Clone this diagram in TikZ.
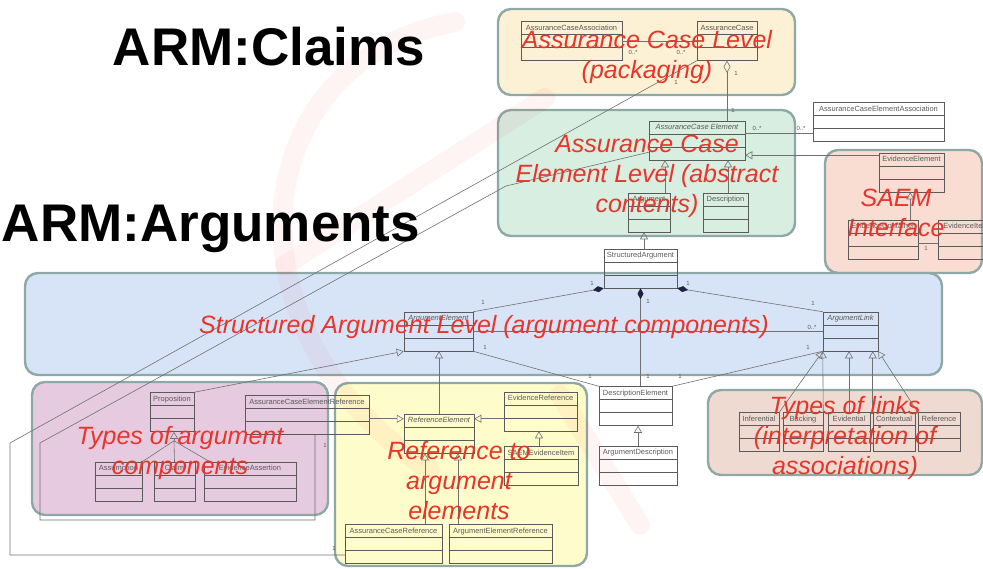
\documentclass[tikz,border=0pt]{standalone}
\usepackage{fontspec}
\setmainfont{Liberation Sans}
\usetikzlibrary{arrows.meta,calc}
\definecolor{acRed}{HTML}{E8352B}
\definecolor{acFrame}{HTML}{8EA8A6}
\definecolor{acLine}{HTML}{5A5A5A}
\definecolor{acCon}{HTML}{707070}
\definecolor{acNavy}{HTML}{1E2440}
\definecolor{acPeach}{HTML}{FCF0D5}
\definecolor{acMint}{HTML}{D7EEE1}
\definecolor{acSalmon}{HTML}{FADDD2}
\definecolor{acSky}{HTML}{D7E4F8}
\definecolor{acLilac}{HTML}{E6CAE0}
\definecolor{acLemon}{HTML}{FFFCCB}
\definecolor{acSand}{HTML}{EFDAD1}

\begin{document}
\begin{tikzpicture}[
    x=1pt,y=-1pt,
    region/.style={draw=acFrame,line width=2.4pt,rounded corners=13pt},
    cls/.style={draw=acLine,line width=0.5pt,inner sep=0pt,minimum height=39pt,
                label={[clsname]north:#1},
                path picture={\draw[acLine,line width=0.5pt]
                  ([yshift=-13pt]path picture bounding box.north west) -- ([yshift=-13pt]path picture bounding box.north east)
                  ([yshift=-26pt]path picture bounding box.north west) -- ([yshift=-26pt]path picture bounding box.north east);}},
    acls/.style={cls={\itshape #1}},
    clsname/.style={anchor=north,inner sep=0pt,yshift=-3.5pt,font=\fontsize{7.5}{8}\selectfont,text=acLine},
    mult/.style={font=\fontsize{6}{7}\selectfont,text=acLine,inner sep=0pt},
    lvl/.style={text=acRed,font=\fontsize{25}{30}\selectfont\itshape,align=center},
    ttl/.style={font=\fontsize{53}{60}\selectfont\bfseries,anchor=base},
    con/.style={draw=acCon,line width=0.6pt},
    gen/.style={con,-{Triangle[open,length=7pt,width=8pt]}},
    comp/.style={con,{Diamond[length=11pt,width=6pt,color=acNavy,fill=acNavy]}-},
    agg/.style={con,{Diamond[open,length=12pt,width=7pt]}-},
    wm/.style={line width=20pt,opacity=0.045,line cap=round,draw=red}
  ]
  \path[use as bounding box] (0,0) rectangle (983,568);
  \clip (0,0) rectangle (983,568);

  % level frames
  \draw[region,fill=acPeach]  (498,9)   rectangle (795,95);
  \draw[region,fill=acMint]   (498,110) rectangle (795,236);
  \draw[region,fill=acSalmon] (825,150) rectangle (982,273);
  \draw[region,fill=acSky]    (25,273)  rectangle (942,375);
  \draw[region,fill=acLilac]  (32,382)  rectangle (328,515);
  \draw[region,fill=acLemon]  (335,383) rectangle (587,566);
  \draw[region,fill=acSand]   (708,390) rectangle (982,475);

  % watermark
  \draw[wm] (455,22) .. controls (245,60) and (215,330) .. (430,470);
  \draw[wm] (285,265) -- (545,98);
  \draw[wm] (560,395) -- (640,525);

  % classes
  \node[cls=AssuranceCaseAssociation,minimum width=101pt] (acassoc) at (571.5,41) {};
  \node[cls=AssuranceCase,minimum width=60pt] (acase) at (727,41) {};
  \node[acls=AssuranceCase Element,minimum width=96pt] (acelem) at (697,140.5) {};
  \node[cls=Argument,minimum width=42pt] (argument) at (649,212.5) {};
  \node[cls=Description,minimum width=45pt] (descr) at (725.5,212.5) {};
  \node[cls=AssuranceCaseElementAssociation,minimum width=131pt] (aceassoc) at (878.5,122) {};
  \node[cls=EvidenceElement,minimum width=65pt] (evelem) at (911.5,172.5) {};
  \node[cls=EvidenceContainer,minimum width=70pt] (evcont) at (883,239.5) {};
  \node[cls=EvidenceItem,minimum width=56pt] (evitem) at (966,239.5) {};
  \node[cls=StructuredArgument,minimum width=73pt] (strarg) at (640.5,268.5) {};
  \node[acls=ArgumentElement,minimum width=69pt] (argelem) at (438.5,331.5) {};
  \node[acls=ArgumentLink,minimum width=55pt] (arglink) at (850.5,331.5) {};
  \node[cls=DescriptionElement,minimum width=73pt] (descelem) at (635.5,406) {};
  \node[cls=ArgumentDescription,minimum width=78pt] (argdesc) at (638,465.5) {};
  \node[cls=Proposition,minimum width=44pt] (prop) at (172,412) {};
  \node[cls=Assumption,minimum width=47pt] (assump) at (118.5,481.5) {};
  \node[cls=Claim,minimum width=41pt] (claim) at (174.5,481.5) {};
  \node[cls=EvidenceAssertion,minimum width=92pt] (evassert) at (250,481.5) {};
  \node[cls=AssuranceCaseElementReference,minimum width=124pt] (acerefel) at (307,415) {};
  \node[acls=ReferenceElement,minimum width=70pt] (refelem) at (439,433.5) {};
  \node[cls=EvidenceReference,minimum width=73pt] (evref) at (540.5,411.5) {};
  \node[cls=SAEMEvidenceItem,minimum width=74pt] (saemev) at (541,466) {};
  \node[cls=AssuranceCaseReference,minimum width=97pt] (acref) at (393.5,544) {};
  \node[cls=ArgumentElementReference,minimum width=103pt] (aeref) at (500.5,544) {};
  \node[cls=Inferential,minimum width=40pt] (inferential) at (759,432) {};
  \node[cls=Backing,minimum width=40pt] (backing) at (803,432) {};
  \node[cls=Evidential,minimum width=42pt] (evidential) at (849,432) {};
  \node[cls=Contextual,minimum width=42pt] (contextual) at (894,432) {};
  \node[cls=Reference,minimum width=42pt] (reference) at (939,432) {};

  % assurance case level
  \draw[con] (acassoc.east) -- (acase.west);
  \node[mult] (m1) at (633,52) {0..*};
  \node[mult] (m2) at (681,52) {0..*};
  \draw[agg] (acase.south) -- (acase.south |- acelem.north);
  \node[mult] (m3) at (736,73) {1};
  \node[mult] (m4) at (733,110) {1};

  % element level
  \coordinate (eaR) at ($(acelem.north east)+(0,13)$);
  \draw[con] (eaR) -- (eaR -| aceassoc.west);
  \node[mult] (m5) at (757,128) {0..*};
  \node[mult] (m6) at (801,128) {0..*};
  \coordinate (evJ) at ($(acelem.south east)+(0,-5)$);
  \draw[gen] (evJ -| evelem.west) -- (evJ);
  \coordinate (argT) at ($(argument.north)+(16,0)$);
  \draw[gen] (argT) -- (argT |- acelem.south);
  \coordinate (desT) at ($(descr.north)+(2.5,0)$);
  \draw[gen] (desT) -- (desT |- acelem.south);
  \coordinate (saT) at ($(strarg.north)+(3.5,0)$);
  \draw[gen] (saT) -- (saT |- argument.south);

  % SAEM
  \coordinate (ecT) at ($(evcont.north east)+(-8,0)$);
  \draw[gen] (ecT) -- (ecT |- evelem.south);
  \coordinate (ecR) at ($(evcont.east)+(0,4)$);
  \draw[con] (ecR) -- (ecR -| evitem.west);
  \node[mult] (m7) at (926,248) {1};

  % structured argument level
  \draw[comp] (strarg.south west) -- (argelem.north east);
  \draw[comp] (strarg.south) -- (strarg.south |- descelem.north);
  \draw[comp] (strarg.south east) -- (arglink.north west);
  \draw[con] (argelem.east) -- (arglink.west);
  \draw[con] (argelem.south east) -- (descelem.north west);
  \draw[con] (descelem.north east) -- (arglink.south west);
  \node[mult] (m8) at (592,283) {1};
  \node[mult] (m9) at (483,302) {1};
  \node[mult] (m10) at (648,301) {1};
  \node[mult] (m11) at (648,376) {1};
  \node[mult] (m12) at (688,283) {1};
  \node[mult] (m13) at (813,303) {1};
  \node[mult] (m14) at (812,327) {0..*};
  \node[mult] (m15) at (485,347) {1};
  \node[mult] (m16) at (590,376) {1};
  \node[mult] (m17) at (680,376) {1};
  \node[mult] (m18) at (808,347) {1};
  \draw[gen] (prop.north east) -- (argelem.south west);
  \draw[gen] (refelem.north) -- (refelem.north |- argelem.south);
  \draw[gen] (argdesc.north) -- (argdesc.north |- descelem.south);

  % types of links
  \draw[gen] (inferential.north east) -- (arglink.south west);
  \draw[gen] (backing.north east) -- (arglink.south west);
  \draw[gen] (evidential.north) -- (evidential.north |- arglink.south);
  \draw[gen] (contextual.north west) -- (contextual.north west |- arglink.south);
  \draw[gen] (reference.north west) -- (arglink.south east);

  % argument components
  \coordinate (prJ) at ($(prop.south)+(2,9)$);
  \draw[gen] (prJ) -- (prJ |- prop.south);
  \draw[con] (assump.north east) -- (prJ);
  \draw[con] (claim.north) -- (prJ);
  \draw[con] ($(evassert.north west)+(6,0)$) -- (prJ);

  % references
  \coordinate (rfL) at ($(refelem.north west)+(0,5)$);
  \draw[gen] (rfL -| acerefel.east) -- (rfL);
  \coordinate (rfR) at ($(refelem.north east)+(0,5)$);
  \draw[gen] (rfR -| evref.west) -- (rfR);
  \coordinate (rfA) at ($(refelem.south)+(-14,0)$);
  \draw[gen] (rfA |- acref.north) -- (rfA);
  \coordinate (rfB) at ($(refelem.south)+(19,0)$);
  \draw[gen] (rfB |- aeref.north) -- (rfB);
  \coordinate (seT) at ($(saemev.north)+(-2,0)$);
  \draw[gen] (seT) -- (seT |- evref.south);

  % long associations
  \coordinate (laB1) at (10,443);
  \coordinate (laB2) at (10,555);
  \draw[con] (acase.south west) -- (laB1) -- (laB2) -- (laB2 -| acref.west);
  \node[mult] (m19) at (676,82) {1};
  \node[mult] (m20) at (334,548) {1};
  \coordinate (lbS) at ($(acelem.south west)+(0,-8)$);
  \coordinate (lbK) at (506,186);
  \coordinate (lbB1) at (40,443);
  \coordinate (lbB2) at (40,520);
  \coordinate (lbB3) at (315,520);
  \draw[con] (lbS) -- (lbK) -- (lbB1) -- (lbB2) -- (lbB3) -- (lbB3 |- acerefel.south);
  \node[mult] (m21) at (325,445) {1};

  % titles
  \node[ttl] (claims) at (269,65) {ARM:Claims};
  \node[ttl] (arguments) at (211,241) {ARM:Arguments};

  % level captions
  \node[lvl] (capAC)   at (647,57)  {Assurance Case Level\\(packaging)};
  \node[lvl] (capACE)  at (647,176) {Assurance Case\\Element Level (abstract\\contents)};
  \node[lvl] (capSAEM) at (896,213) {SAEM\\Interface};
  \node[lvl] (capSA)   at (484,327) {Structured Argument Level (argument components)};
  \node[lvl] (capTAC)  at (180,453) {Types of argument\\components};
  \node[lvl] (capRef)  at (459,481) {Reference to\\argument\\elements};
  \node[lvl] (capTL)   at (845,438) {Types of links\\(interpretation of\\associations)};
\end{tikzpicture}
\end{document}
